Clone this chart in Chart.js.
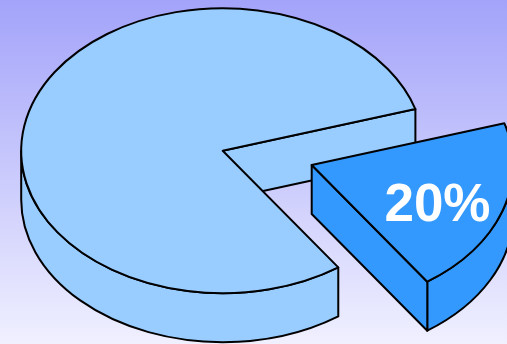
<!DOCTYPE html>
<html>
<head>
<meta charset="utf-8">
<script src="https://cdn.jsdelivr.net/npm/chart.js@4.4.1/dist/chart.umd.min.js"></script>
<style>
  html, body { margin: 0; padding: 0; overflow: hidden; background: #fff; }
  #wrap { position: relative; width: 507px; height: 344px; }
</style>
</head>
<body>
<div id="wrap"><canvas id="chart"></canvas></div>
<script>
// Slice data
const categories = ['Other', 'Highlighted'];
const shares = [80, 20];

// Look of the extruded pie
const fills = ['#99CCFF', '#3399FF'];
const OUTLINE = '#000000';
const LINE_W = 2;
const TILT = 0.707;          // vertical squash of the disc
const DEPTH = 49;            // thickness of the disc, px
const PULL = [null, { dx: 89, dy: 14.3 }];   // pulled-out slice offset (screen px)
const LABEL_RADIUS = 0.66;
const LABEL_DROP = 6;

function screenY(cyc, y) { return cyc + (y - cyc) * TILT; }

function drawSides(ctx, arc, cyc, fill) {
  const { x, y, startAngle: s, endAngle: e, outerRadius: R } = arc;
  const sy = screenY(cyc, y), ry = R * TILT;
  ctx.save();
  ctx.fillStyle = fill;
  ctx.strokeStyle = OUTLINE;
  ctx.lineWidth = LINE_W;
  ctx.lineJoin = 'round';
  // curved outer wall, only the half that faces the viewer
  for (let n = -1; n <= 2; n++) {
    const a = Math.max(s, 2 * Math.PI * n);
    const b = Math.min(e, 2 * Math.PI * n + Math.PI);
    if (b > a) {
      ctx.beginPath();
      ctx.ellipse(x, sy, R, ry, 0, a, b, false);
      ctx.lineTo(x + R * Math.cos(b), sy + ry * Math.sin(b) + DEPTH);
      ctx.ellipse(x, sy + DEPTH, R, ry, 0, b, a, true);
      ctx.closePath();
      ctx.fill();
      ctx.stroke();
    }
  }
  // flat cut faces that face the viewer
  const faces = [];
  if (Math.cos(s) < 0) faces.push(s);
  if (Math.cos(e) > 0) faces.push(e);
  faces.forEach(t => {
    const px = x + R * Math.cos(t), py = sy + ry * Math.sin(t);
    ctx.beginPath();
    ctx.moveTo(x, sy);
    ctx.lineTo(px, py);
    ctx.lineTo(px, py + DEPTH);
    ctx.lineTo(x, sy + DEPTH);
    ctx.closePath();
    ctx.fill();
    ctx.stroke();
  });
  ctx.restore();
}

function strokeTop(ctx, arc, cyc) {
  const { x, y, startAngle: s, endAngle: e, outerRadius: R } = arc;
  const sy = screenY(cyc, y);
  ctx.save();
  ctx.strokeStyle = OUTLINE;
  ctx.lineWidth = LINE_W;
  ctx.lineJoin = 'round';
  ctx.beginPath();
  ctx.moveTo(x, sy);
  ctx.ellipse(x, sy, R, R * TILT, 0, s, e, false);
  ctx.closePath();
  ctx.stroke();
  ctx.restore();
}

const pie3d = {
  id: 'pie3d',
  beforeDraw(chart) {
    const { ctx, width, height } = chart;
    const g = ctx.createLinearGradient(0, 0, 0, height);
    g.addColorStop(0, '#A3A3FA');
    g.addColorStop(1, '#F0F0FF');
    ctx.save();
    ctx.fillStyle = g;
    ctx.fillRect(0, 0, width, height);
    ctx.restore();
  },
  afterUpdate(chart) {
    const meta = chart.getDatasetMeta(0);
    meta.data.forEach((arc, i) => {
      const p = PULL[i];
      if (p) { arc.x += p.dx; arc.y += p.dy / TILT; }
    });
  },
  beforeDatasetsDraw(chart) {
    const ctx = chart.ctx;
    const area = chart.chartArea;
    const cyc = (area.top + area.bottom) / 2;
    const meta = chart.getDatasetMeta(0);
    meta.data.forEach((arc, i) => drawSides(ctx, arc, cyc, fills[i]));
    // tops are filled by the library in the tilted frame
    ctx.save();
    ctx.translate(0, cyc);
    ctx.scale(1, TILT);
    ctx.translate(0, -cyc);
  },
  afterDatasetsDraw(chart) {
    const ctx = chart.ctx;
    ctx.restore();
    const area = chart.chartArea;
    const cyc = (area.top + area.bottom) / 2;
    const meta = chart.getDatasetMeta(0);
    const total = shares.reduce((a, b) => a + b, 0);
    meta.data.forEach(arc => strokeTop(ctx, arc, cyc));
    meta.data.forEach((arc, i) => {
      if (!PULL[i]) return;
      const mid = (arc.startAngle + arc.endAngle) / 2;
      const r = arc.outerRadius * LABEL_RADIUS;
      const lx = arc.x + r * Math.cos(mid);
      const ly = screenY(cyc, arc.y + r * Math.sin(mid)) + LABEL_DROP;
      ctx.save();
      ctx.fillStyle = '#FFFFFF';
      ctx.font = 'bold 53px "Liberation Sans", Arial, sans-serif';
      ctx.textAlign = 'center';
      ctx.textBaseline = 'alphabetic';
      ctx.fillText(Math.round(shares[i] / total * 100) + '%', lx, ly + 53 * 0.358);
      ctx.restore();
    });
  }
};

new Chart(document.getElementById('chart'), {
  type: 'pie',
  data: {
    labels: categories,
    datasets: [{
      data: shares,
      backgroundColor: fills,
      borderWidth: 0,
      clip: false
    }]
  },
  options: {
    responsive: true,
    maintainAspectRatio: false,
    animation: false,
    events: [],
    rotation: 145,
    radius: 201.5,
    layout: { padding: { left: 0, right: 61.6, top: 0, bottom: 42.6 } },
    plugins: {
      legend: { display: false },
      tooltip: { enabled: false }
    }
  },
  plugins: [pie3d]
});
</script>
</body>
</html>
